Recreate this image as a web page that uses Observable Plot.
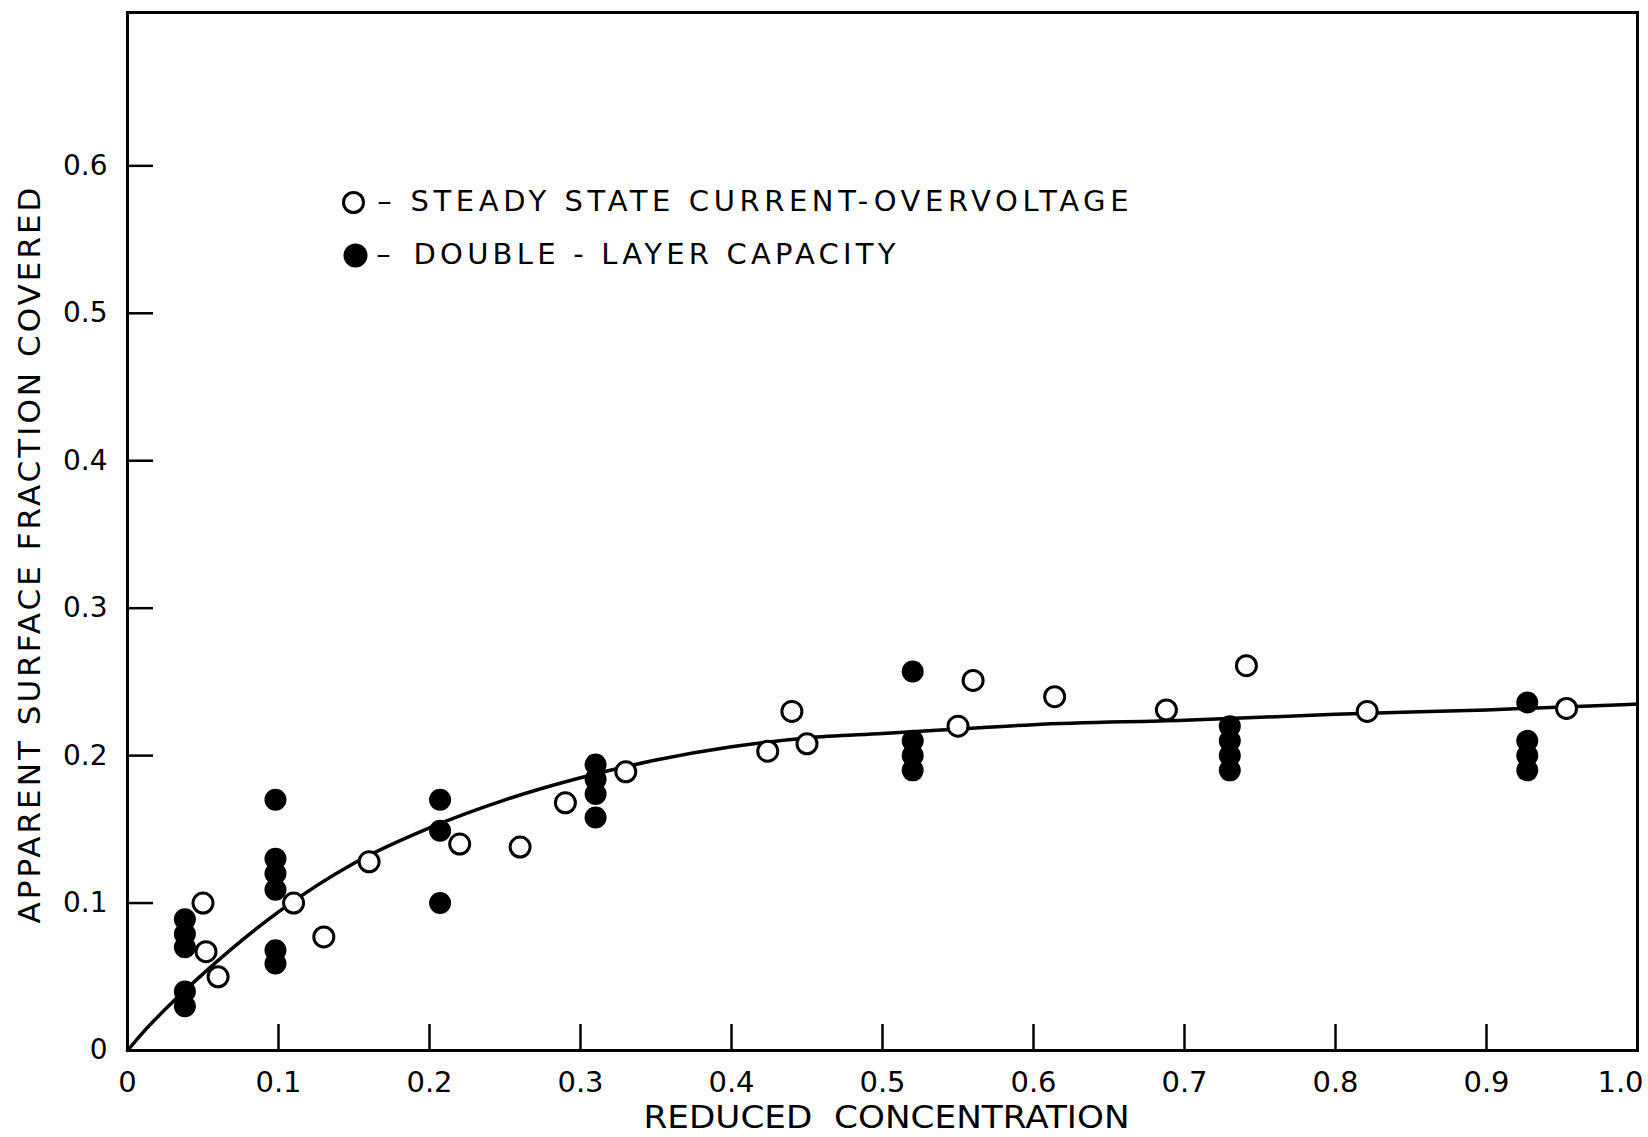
<!DOCTYPE html>
<html>
<head>
<meta charset="utf-8">
<script src="https://cdn.jsdelivr.net/npm/d3@7"></script>
<script src="https://cdn.jsdelivr.net/npm/@observablehq/plot@0.6"></script>
<style>
  html, body { margin: 0; padding: 0; background: #fff; }
  #chart { width: 1648px; height: 1137px; }
</style>
</head>
<body>
<div id="chart"></div>
<script>
// Open circles: steady state current-overvoltage
const hollowX = [0.05, 0.052, 0.06, 0.11, 0.13, 0.16, 0.22, 0.26, 0.29, 0.33, 0.424, 0.44, 0.45, 0.55, 0.56, 0.614, 0.688, 0.741, 0.821, 0.953];
const hollowY = [0.100, 0.067, 0.050, 0.100, 0.077, 0.128, 0.140, 0.138, 0.168, 0.189, 0.203, 0.230, 0.208, 0.220, 0.251, 0.240, 0.231, 0.261, 0.230, 0.232];

// Filled circles: double-layer capacity
const filledX = [0.038, 0.038, 0.038, 0.038, 0.038,
                 0.098, 0.098, 0.098, 0.098, 0.098, 0.098,
                 0.207, 0.207, 0.207,
                 0.31, 0.31, 0.31, 0.31,
                 0.52, 0.52, 0.52, 0.52,
                 0.73, 0.73, 0.73, 0.73,
                 0.927, 0.927, 0.927, 0.927];
const filledY = [0.089, 0.079, 0.070, 0.040, 0.030,
                 0.170, 0.130, 0.120, 0.109, 0.068, 0.059,
                 0.170, 0.149, 0.100,
                 0.194, 0.184, 0.174, 0.158,
                 0.257, 0.210, 0.200, 0.190,
                 0.220, 0.210, 0.200, 0.190,
                 0.236, 0.210, 0.200, 0.190];

// Fitted curve
const curveX = [0, 0.01, 0.025, 0.05, 0.1, 0.15, 0.2, 0.25, 0.3, 0.35, 0.4, 0.45, 0.5, 0.55, 0.6, 0.7, 0.8, 0.9, 1.0];
const curveY = [0, 0.012, 0.028, 0.052, 0.094, 0.127, 0.151, 0.170, 0.185, 0.197, 0.206, 0.212, 0.215, 0.218, 0.221, 0.224, 0.228, 0.231, 0.235];

// Ticks
const xTicks = [0, 0.1, 0.2, 0.3, 0.4, 0.5, 0.6, 0.7, 0.8, 0.9, 1.0];
const xTickLabels = ["0", "0.1", "0.2", "0.3", "0.4", "0.5", "0.6", "0.7", "0.8", "0.9", "1.0"];
const yTicks = [0, 0.1, 0.2, 0.3, 0.4, 0.5, 0.6];
const yTickLabels = ["0", "0.1", "0.2", "0.3", "0.4", "0.5", "0.6"];

const xTitle = "REDUCED  CONCENTRATION";
const yTitle = "APPARENT SURFACE FRACTION COVERED";
const legendLabels = ["STEADY STATE CURRENT-OVERVOLTAGE", "DOUBLE - LAYER CAPACITY"];

const hollow = hollowX.map((x, i) => ({x, y: hollowY[i]}));
const filled = filledX.map((x, i) => ({x, y: filledY[i]}));
const curve = curveX.map((x, i) => ({x, y: curveY[i]}));

const font = "DejaVu Sans, sans-serif";

const chart = Plot.plot({
  width: 1648,
  height: 1137,
  marginLeft: 127,
  marginRight: 11,
  marginTop: 12,
  marginBottom: 87,
  x: {domain: [0, 1]},
  y: {domain: [0, 0.704]},
  style: {background: "#fff", color: "#000", fontFamily: font},
  marks: [
    Plot.frame({stroke: "#000", strokeWidth: 3}),
    // inward ticks
    Plot.axisX(xTicks.slice(1, -1), {tickSize: -26, fill: "none", stroke: "#000", strokeWidth: 2.5, label: null}),
    Plot.axisY(yTicks.slice(1), {tickSize: -26, fill: "none", stroke: "#000", strokeWidth: 2.5, label: null}),
    // tick labels
    Plot.axisX(xTicks, {tickSize: 0, tickPadding: 21, stroke: "none", fill: "#000", fontSize: 29, fontFamily: font, tickFormat: d => xTickLabels[xTicks.indexOf(d)], label: null}),
    Plot.axisY(yTicks, {tickSize: 0, tickPadding: 20, stroke: "none", fill: "#000", fontSize: 28, fontFamily: font, tickFormat: d => yTickLabels[yTicks.indexOf(d)], label: null}),
    // axis titles
    Plot.text([xTitle], {frameAnchor: "bottom", lineAnchor: "middle", textAnchor: "middle", dx: 4, dy: 67, fontSize: 32, fontFamily: font, fill: "#000"}),
    Plot.text([yTitle], {frameAnchor: "left", lineAnchor: "middle", textAnchor: "middle", rotate: -90, dx: -97, dy: 24, fontSize: 31, fontFamily: font, fill: "#000"}),
    // curve
    Plot.line(curve, {x: "x", y: "y", curve: "monotone-x", stroke: "#000", strokeWidth: 3.5}),
    // data
    Plot.dot(filled, {x: "x", y: "y", r: 11, fill: "#000", stroke: "none"}),
    Plot.dot(hollow, {x: "x", y: "y", r: 10, fill: "#fff", stroke: "#000", strokeWidth: 3}),
    // legend
    Plot.dot([0], {frameAnchor: "top-left", dx: 226, dy: 190, r: 10, fill: "#fff", stroke: "#000", strokeWidth: 3}),
    Plot.dot([0], {frameAnchor: "top-left", dx: 228, dy: 243, r: 12, fill: "#000", stroke: "none"}),
    Plot.text(["–"], {frameAnchor: "top-left", dx: 257, dy: 189, lineAnchor: "middle", textAnchor: "middle", fontSize: 29, fontFamily: font, fill: "#000"}),
    Plot.text(["–"], {frameAnchor: "top-left", dx: 256, dy: 242, lineAnchor: "middle", textAnchor: "middle", fontSize: 29, fontFamily: font, fill: "#000"}),
    Plot.text([legendLabels[0]], {frameAnchor: "top-left", dx: 283, dy: 189, lineAnchor: "middle", textAnchor: "start", fontSize: 29, fontFamily: font, fill: "#000"}),
    Plot.text([legendLabels[1]], {frameAnchor: "top-left", dx: 286, dy: 242, lineAnchor: "middle", textAnchor: "start", fontSize: 29, fontFamily: font, fill: "#000"})
  ]
});

// Stretch texts to the lengths of the lettering in the original figure
const stretch = new Map([
  [xTitle, [486, "spacingAndGlyphs"]],
  [yTitle, [736, "spacing"]],
  [legendLabels[0], [718, "spacing"]],
  [legendLabels[1], [482, "spacing"]]
]);
d3.select(chart).selectAll("text").each(function() {
  const s = stretch.get(this.textContent);
  if (s) {
    this.setAttribute("textLength", s[0]);
    this.setAttribute("lengthAdjust", s[1]);
  }
});
// keep the last x tick label inside the picture
d3.select(chart).selectAll("text").filter(function() {
  return this.textContent === xTickLabels[xTickLabels.length - 1];
}).attr("dx", -17);

document.getElementById("chart").appendChild(chart);
</script>
</body>
</html>
